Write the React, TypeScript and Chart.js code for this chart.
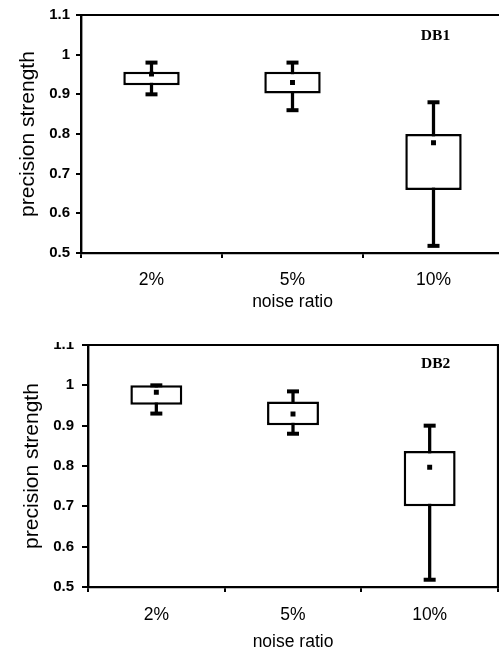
import React, { useEffect, useRef } from 'react';
import { Chart, registerables } from 'chart.js';

Chart.register(...registerables);

// ---- data ----
const categories = ['2%', '5%', '10%'];
const yTickValues = [0.5, 0.6, 0.7, 0.8, 0.9, 1.0, 1.1];
const yTickLabels = ['0.5', '0.6', '0.7', '0.8', '0.9', '1', '1.1'];

const db1Min = [0.9, 0.86, 0.518];
const db1Q1 = [0.923, 0.902, 0.659];
const db1Q3 = [0.957, 0.957, 0.8];
const db1Max = [0.98, 0.98, 0.88];
const db1Mean = [0.951, 0.93, 0.778];

const db2Min = [0.93, 0.88, 0.518];
const db2Q1 = [0.952, 0.901, 0.7];
const db2Q3 = [1.0, 0.96, 0.837];
const db2Max = [1.0, 0.985, 0.9];
const db2Mean = [0.983, 0.929, 0.797];

const yTitle = 'precision strength';
const xTitle = 'noise ratio';

type Panel = {
  tag: string;
  min: number[];
  q1: number[];
  q3: number[];
  max: number[];
  mean: number[];
  W: number;
  H: number;
  padTop: number;
  padRight: number;
  yWidth: number;
  xHeight: number;
  yTickLen: number;
  yTickPad: number;
  xTickPad: number;
  xTitlePadBottom: number;
  yTitlePadTop: number;
  boxPct: number;
  tagValue: number;
  tagDx: number;
};

const framePlugin = {
  id: 'frame',
  afterDraw(chart: any, _args: any, opts: any) {
    const { ctx, chartArea } = chart;
    const { left, right, top, bottom } = chartArea;
    ctx.save();
    ctx.strokeStyle = '#000';
    ctx.lineWidth = 2.2;
    ctx.beginPath();
    ctx.moveTo(left, top);
    ctx.lineTo(right, top);
    ctx.lineTo(right, bottom);
    ctx.stroke();
    ctx.font = 'bold 15.5px "Liberation Serif"';
    ctx.textAlign = 'center';
    ctx.textBaseline = 'middle';
    ctx.fillStyle = '#000';
    const x = chart.scales.x.getPixelForValue(categories.length - 1) + opts.tagDx;
    const y = chart.scales.y.getPixelForValue(opts.tagValue);
    ctx.fillText(opts.tag, x, y);
    ctx.restore();
  },
};

function BoxChart({ p }: { p: Panel }) {
  const ref = useRef<HTMLCanvasElement | null>(null);
  useEffect(() => {
    if (!ref.current) return;
    const ranges = categories.map((_, i) => [p.min[i], p.max[i]]);
    const boxes = categories.map((_, i) => [p.q1[i], p.q3[i]]);
    const chart = new Chart(ref.current, {
      type: 'bar',
      data: {
        labels: categories,
        datasets: [
          {
            type: 'line',
            data: p.mean,
            showLine: false,
            pointStyle: 'rect',
            pointRadius: 3.5,
            pointHoverRadius: 3.5,
            pointBackgroundColor: '#000',
            pointBorderWidth: 0,
            order: 1,
          } as any,
          {
            type: 'line',
            data: p.max,
            showLine: false,
            pointStyle: 'line',
            pointRadius: 6,
            pointHoverRadius: 6,
            pointBorderColor: '#000',
            pointBorderWidth: 4,
            order: 1,
          } as any,
          {
            type: 'line',
            data: p.min,
            showLine: false,
            pointStyle: 'line',
            pointRadius: 6,
            pointHoverRadius: 6,
            pointBorderColor: '#000',
            pointBorderWidth: 4,
            order: 1,
          } as any,
          {
            type: 'bar',
            data: boxes,
            backgroundColor: '#fff',
            borderColor: '#000',
            borderWidth: 2.5,
            borderSkipped: false,
            grouped: false,
            barPercentage: p.boxPct,
            categoryPercentage: 1,
            order: 2,
          } as any,
          {
            type: 'bar',
            data: ranges,
            backgroundColor: '#000',
            borderWidth: 0,
            grouped: false,
            barThickness: 2.6,
            order: 3,
          } as any,
        ],
      },
      options: {
        responsive: false,
        animation: false,
        events: [],
        layout: { padding: { top: p.padTop, right: p.padRight, left: 0, bottom: 0 } },
        plugins: {
          legend: { display: false },
          tooltip: { enabled: false },
          frame: { tag: p.tag, tagValue: p.tagValue, tagDx: p.tagDx },
        } as any,
        scales: {
          x: {
            type: 'category',
            offset: true,
            grid: {
              offset: true,
              drawOnChartArea: false,
              drawTicks: true,
              tickLength: 5,
              color: '#000',
              lineWidth: 2,
            },
            border: { display: true, color: '#000', width: 2.2 },
            ticks: {
              color: '#000',
              padding: p.xTickPad,
              font: { family: '"Liberation Sans", Arial, sans-serif', size: 17.5 },
              maxRotation: 0,
            },
            title: {
              display: true,
              text: xTitle,
              color: '#000',
              font: { family: '"Liberation Sans", Arial, sans-serif', size: 17.5 },
              padding: { top: 0, bottom: p.xTitlePadBottom },
            },
            afterFit: (s: any) => {
              s.height = p.xHeight;
            },
          },
          y: {
            type: 'linear',
            min: 0.5,
            max: 1.1,
            grid: {
              drawOnChartArea: false,
              drawTicks: true,
              tickLength: p.yTickLen,
              color: '#000',
              lineWidth: 2,
            },
            border: { display: true, color: '#000', width: 2.4 },
            afterBuildTicks: (s: any) => {
              s.ticks = yTickValues.map((v) => ({ value: v }));
            },
            ticks: {
              color: '#000',
              padding: p.yTickPad,
              font: { family: '"Liberation Sans", Arial, sans-serif', size: 15, weight: 'bold' },
              callback: (_v: any, i: number) => yTickLabels[i],
            },
            title: {
              display: true,
              text: yTitle,
              color: '#000',
              font: { family: '"Liberation Sans", Arial, sans-serif', size: 21 },
              padding: { top: p.yTitlePadTop, bottom: 0 },
            },
            afterFit: (s: any) => {
              s.width = p.yWidth;
            },
          },
        },
      } as any,
      plugins: [framePlugin as any],
    });
    return () => chart.destroy();
  }, [p]);
  return <canvas ref={ref} width={p.W} height={p.H} style={{ display: 'block', width: p.W, height: p.H }} />;
}

// points overflow adds a 10px minimum padding on the right, so canvas widths include it
const panel1: Panel = {
  tag: 'DB1',
  min: db1Min,
  q1: db1Q1,
  q3: db1Q3,
  max: db1Max,
  mean: db1Mean,
  W: 514,
  H: 330,
  padTop: 15,
  padRight: 10,
  yWidth: 81,
  xHeight: 77,
  yTickLen: 5,
  yTickPad: 6,
  xTickPad: 11.5,
  xTitlePadBottom: 17,
  yTitlePadTop: 15.4,
  boxPct: 0.4,
  tagValue: 1.047,
  tagDx: 2,
};

const panel2: Panel = {
  tag: 'DB2',
  min: db2Min,
  q1: db2Q1,
  q3: db2Q3,
  max: db2Max,
  mean: db2Mean,
  W: 508,
  H: 332,
  padTop: 23,
  padRight: 10,
  yWidth: 88,
  xHeight: 67,
  yTickLen: 6,
  yTickPad: 8,
  xTickPad: 13,
  xTitlePadBottom: 1.3,
  yTitlePadTop: 19.3,
  boxPct: 0.38,
  tagValue: 1.053,
  tagDx: 6,
};

export default function App() {
  return (
    <div
      style={{
        position: 'absolute',
        left: 0,
        top: 0,
        width: 499,
        height: 654,
        overflow: 'hidden',
        background: '#fff',
      }}
    >
      <div style={{ position: 'absolute', left: 0, top: 0, width: 499, height: 330, overflow: 'hidden' }}>
        <BoxChart p={panel1} />
      </div>
      <div style={{ position: 'absolute', left: 0, top: 342, width: 499, height: 312, overflow: 'hidden' }}>
        <div style={{ position: 'absolute', left: 0, top: -20 }}>
          <BoxChart p={panel2} />
        </div>
      </div>
    </div>
  );
}
